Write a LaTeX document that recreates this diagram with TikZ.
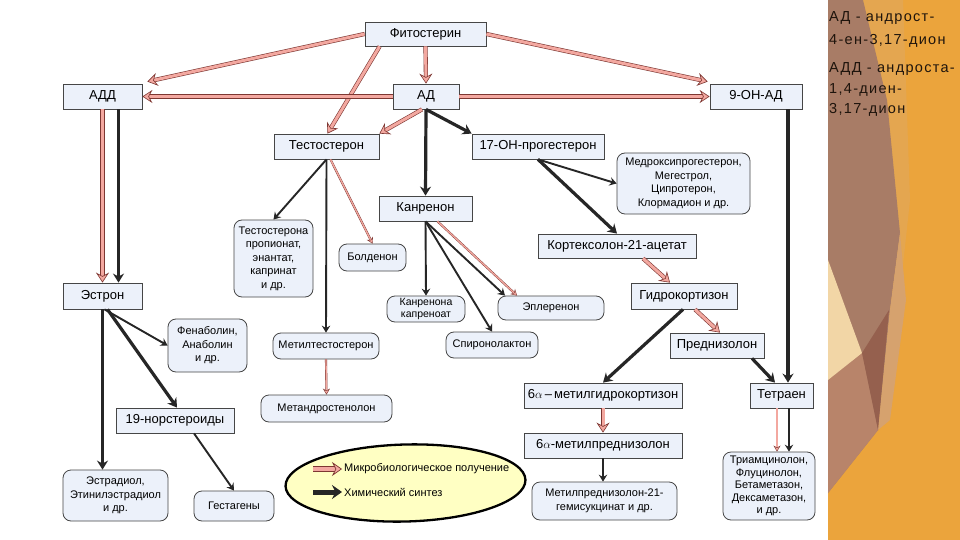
\documentclass[tikz,border=0pt]{standalone}
\usepackage{fontspec}
\setmainfont{Liberation Sans}
\newfontfamily\sidefont[LetterSpace=9]{Liberation Sans}
\usetikzlibrary{arrows.meta,shapes.geometric}
\definecolor{pinkfill}{RGB}{243,168,160}
\definecolor{pinkedge}{RGB}{125,55,50}
\definecolor{boxfill}{RGB}{236,241,250}
\definecolor{boxedge}{RGB}{70,70,70}
\definecolor{legfill}{RGB}{255,255,195}
\definecolor{orng}{RGB}{235,164,60}
\definecolor{orngl}{RGB}{228,166,80}
\definecolor{brwn}{RGB}{168,124,102}
\definecolor{brwnd}{RGB}{149,96,78}
\definecolor{rosy}{RGB}{184,132,106}
\definecolor{tan}{RGB}{214,162,110}
\definecolor{cream}{RGB}{242,214,166}
\definecolor{textdark}{RGB}{30,20,12}
\begin{document}
\begin{tikzpicture}[x=1pt,y=-1pt,
  wh/.style 2 args={minimum width=#1pt, minimum height=#2pt},
  sq/.style={draw=boxedge, line width=0.8pt, fill=boxfill, inner sep=0pt, align=center, font=\fontsize{13}{15}\selectfont},
  rd/.style={sq, rounded corners=8pt, font=\fontsize{11}{13.5}\selectfont},
  micro/.style={draw=pinkedge, line width=0.6pt, double=pinkfill, double distance=3pt,
    -{Stealth[length=10pt,width=13pt,inset=3.5pt,fill=pinkfill,line width=0.6pt]}},
  microthin/.style={draw=pinkedge, line width=0.4pt, double=pinkfill, double distance=1.3pt,
    -{Stealth[length=6pt,width=7pt,inset=2pt,fill=pinkfill,line width=0.4pt]}},
  chem/.style={draw=black!85, line width=3.2pt, -{Stealth[length=9pt,width=11pt,inset=3pt]}},
  chemthin/.style={draw=black!85, line width=1.9pt, -{Stealth[length=7pt,width=8.5pt,inset=2.5pt]}},
  sidetxt/.style={anchor=base west, inner sep=0pt, text=textdark, font=\sidefont\fontsize{14.5}{18}\selectfont},
  legtxt/.style={anchor=west, inner sep=0pt, font=\fontsize{11}{13}\selectfont}
]
\useasboundingbox (0,0) rectangle (960,540);
\fill[white] (0,0) rectangle (828,540);
% right panel
\fill[orng] (828,0) rectangle (960,540);
\fill[orngl] (863,0) -- (903,0) -- (910,200) -- (896,330) -- (880,430) -- cycle;
\fill[brwn] (828,0) -- (863,0) -- (887,100) -- (900,233) -- (890,310) -- (878,430) -- (828,493) -- cycle;
\fill[tan] (900,233) -- (906,300) -- (890,420) -- (878,430) -- (890,310) -- cycle;
\fill[rosy] (828,380) -- (862,353) -- (878,430) -- (828,493) -- cycle;
\fill[cream] (828,260) -- (862,353) -- (828,380) -- cycle;
\fill[brwnd] (862,353) -- (889,310) -- (878,430) -- cycle;
\node[sidetxt] (s1) at (829,22) {АД - андрост-};
\node[sidetxt] (s2) at (829,45) {4-ен-3,17-дион};
\node[sidetxt] (s3) at (829,73) {АДД - андроста-};
\node[sidetxt] (s4) at (829,94) {1,4-диен-};
\node[sidetxt] (s5) at (829,114) {3,17-дион};

% nodes
\node[sq, wh={121}{24}] (phyto) at (425.5,34) {Фитостерин};
\node[sq, wh={79}{25}] (add) at (102.5,96.5) {АДД};
\node[sq, wh={66}{25}] (ad) at (426,96.5) {АД};
\node[sq, wh={92}{25}] (oh9) at (756,96.5) {9-ОН-АД};
\node[sq, wh={105}{25}] (testo) at (326.5,146.5) {Тестостерон};
\node[sq, wh={132}{25}] (oh17) at (538,146.5) {17-ОН-прогестерон};
\node[rd, wh={133}{61}] (medroxy) at (683.5,183.5) {Медроксипрогестерон,\\Мегестрол,\\Ципротерон,\\Клормадион и др.};
\node[sq, wh={93}{25}] (kanr) at (425.5,208.5) {Канренон};
\node[sq, wh={158}{24}] (kortex) at (617,246) {Кортексолон-21-ацетат};
\node[sq, wh={106}{26}] (hydro) at (684,296) {Гидрокортизон};
\node[rd, wh={106}{24}] (epler) at (551,308) {Эплеренон};
\node[rd, wh={79}{77}] (testprop) at (273.5,258.5) {Тестостерона\\пропионат,\\энантат,\\капринат\\и др.};
\node[rd, wh={67}{27}] (bolden) at (372.5,257.5) {Болденон};
\node[sq, wh={79}{26}] (estron) at (102.5,296) {Эстрон};
\node[rd, wh={78}{26}, font=\fontsize{10.5}{12}\selectfont] (kanrcap) at (426,309) {Канренона\\капреноат};
\node[rd, wh={79}{53}] (fenab) at (207.5,345.5) {Фенаболин,\\Анаболин\\и др.};
\node[rd, wh={106}{26}] (methyltest) at (326,346) {Метилтестостерон};
\node[rd, wh={92}{26}] (spiro) at (492,345) {Спиронолактон};
\node[sq, wh={94}{25}] (predn) at (717,345.5) {Преднизолон};
\node[rd, wh={131}{27}] (metandr) at (326.5,408.5) {Метандростенолон};
\node[sq, wh={118}{25}] (nor19) at (175,420.5) {19-норстероиды};
\node[sq, wh={158}{25}] (mhydro) at (603,395.5) {6$\alpha$\,–\,метилгидрокортизон};
\node[sq, wh={63}{25}] (tetraen) at (781.5,395.5) {Тетраен};
\node[sq, wh={158}{25}] (mpred) at (603,445.5) {6$\alpha$-метилпреднизолон};
\node[rd, wh={145}{38}] (mpred21) at (604.5,501) {Метилпреднизолон-21-\\гемисукцинат и др.};
\node[rd, wh={92}{68}, font=\fontsize{11}{12.6}\selectfont] (triam) at (769,486) {Триамцинолон,\\Флуцинолон,\\Бетаметазон,\\Дексаметазон,\\и др.};
\node[rd, wh={105}{51}] (estradiol) at (115.5,495.5) {Эстрадиол,\\Этинилэстрадиол\\и др.};
\node[rd, wh={80}{30}] (gestag) at (234,506) {Гестагены};

% legend
\node[ellipse, draw=black, line width=2.3pt, fill=legfill, inner sep=0pt, minimum width=240pt, minimum height=77pt, rotate=1.5] (legend) at (405.5,483) {};
\coordinate (lp1) at (313,469);
\coordinate (lp2) at (342,469);
\coordinate (lb1) at (313,492);
\coordinate (lb2) at (342,492);
\draw[draw=pinkedge, line width=0.7pt, double=pinkfill, double distance=4.5pt,
  -{Stealth[length=10pt,width=14pt,inset=3.5pt,fill=pinkfill,line width=0.7pt]}] (lp1) -- (lp2);
\draw[draw=black!85, line width=5pt, -{Stealth[length=10pt,width=14pt,inset=3.5pt]}] (lb1) -- (lb2);
\node[legtxt] (lt1) at (344,469) {Микробиологическое получение};
\node[legtxt] (lt2) at (344,492) {Химический синтез};

% microbiological (pink) connectors
\draw[micro] (phyto.west) -- ([xshift=5pt,yshift=2pt]add.north east);
\draw[micro] (phyto.south) -- (ad.north);
\draw[micro] ([xshift=15pt]phyto.south west) -- ([xshift=1pt]testo.north);
\draw[micro] (phyto.east) -- ([xshift=-2pt,yshift=2pt]oh9.north west);
\draw[micro] (ad.west) -- (add.east);
\draw[micro] (ad.east) -- (oh9.west);
\draw[micro] ([xshift=-4pt]ad.south) -- (testo.north east);
\draw[micro] (add.south) -- (estron.north);
\draw[micro] ([xshift=26pt]kortex.south) -- ([xshift=-14pt]hydro.north);
\draw[micro] ([xshift=11pt]hydro.south) -- ([xshift=3pt]predn.north);
\draw[micro] (mhydro.south) -- (mpred.north);
\draw[microthin] ([xshift=4pt]testo.south) -- (bolden.north);
\draw[microthin] ([xshift=12pt]kanr.south) -- ([xshift=-34pt]epler.north);
\draw[microthin] (methyltest.south) -- (metandr.north);
\draw[microthin] ([xshift=-4.5pt]tetraen.south) -- ([xshift=-4.5pt]tetraen.south |- triam.north);

% chemical (black) connectors
\draw[chem] ([xshift=16pt]add.south) -- ([xshift=16pt]estron.north);
\draw[chem] (ad.south) -- (oh17.north west);
\draw[chem] (ad.south) -- (kanr.north);
\draw[chem] ([xshift=32pt]oh9.south) -- ([xshift=6.5pt]tetraen.north);
\draw[chem] ([xshift=5pt]estron.south) -- ([xshift=2pt]nor19.north);
\draw[chem] (oh17.south) -- (kortex.north);
\draw[chem] ([xshift=-1pt]hydro.south) -- (mhydro.north);
\draw[chem] ([xshift=35pt]predn.south) -- ([xshift=-6.5pt]tetraen.north);
\draw[chem, line width=2.4pt] (estron.south) -- (estron.south |- estradiol.north);
\draw[chemthin] (testo.south) -- (testprop.north);
\draw[chemthin] (testo.south) -- (methyltest.north);
\draw[chemthin] ([xshift=2pt]estron.south) -- (fenab.west);
\draw[chemthin] ([xshift=19pt]nor19.south) -- (gestag.north);
\draw[chemthin] (oh17.south) -- (medroxy.west);
\draw[chemthin] (kanr.south) -- (kanrcap.north);
\draw[chemthin] (kanr.south) -- (spiro.north);
\draw[chemthin] (kanr.south) -- ([xshift=-46pt]epler.north);
\draw[chemthin] (mpred.south) -- (mpred.south |- mpred21.north);
\draw[chemthin] ([xshift=7.5pt]tetraen.south) -- ([xshift=7.5pt]tetraen.south |- triam.north);
\end{tikzpicture}
\end{document}
